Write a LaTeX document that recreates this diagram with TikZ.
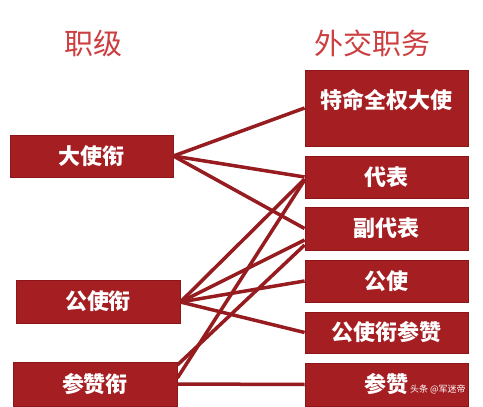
\documentclass[tikz,border=0pt]{standalone}
\usepackage{fontspec}
\newfontfamily\cjk{Noto Sans CJK SC}
\definecolor{boxred}{RGB}{164,30,34}
\definecolor{boxedge}{RGB}{140,22,26}
\definecolor{linered}{RGB}{150,28,32}
\definecolor{titlered}{RGB}{204,62,64}
\tikzset{
  rbox/.style={fill=boxred, draw=boxedge, line width=0.8pt, minimum width=163pt, minimum height=42pt, inner sep=0pt, text=white, font=\cjk\bfseries\fontsize{22}{22}\selectfont},
  boxtext/.style={text=white, inner sep=0pt, font=\cjk\bfseries\fontsize{22}{22}\selectfont},
  title/.style={text=titlered, inner sep=0pt, font=\cjk\fontsize{29}{29}\selectfont},
  link/.style={draw=linered, line width=3.5pt},
  wmark/.style={text=white, inner sep=0pt, font=\cjk\fontsize{9}{9}\selectfont}
}
\begin{document}
\begin{tikzpicture}[x=1pt,y=1pt]
\useasboundingbox (0,0) rectangle (483,-407);
\fill[white] (0,0) rectangle (483,-407);
% titles
\node[title] (t1) at (93,-43) {职级};
\node[title] (t2) at (372,-43) {外交职务};
% left boxes
\node[rbox, minimum width=163pt] (dsx) at (91.5,-156) {大使衔};
\node[rbox, minimum width=164pt, minimum height=43pt] (gsx) at (98,-301.5) {公使衔};
\node[rbox, minimum width=164pt, minimum height=44pt] (czx) at (95,-384) {参赞衔};
% right boxes
\node[rbox, minimum height=76pt] (tm) at (386.5,-108) {};
\node[boxtext] (tmt) at ([yshift=-30pt]tm.north) {特命全权大使};
\node[rbox] (db) at (386.5,-177) {代表};
\node[rbox, minimum height=43pt] (fdb) at (386.5,-228.5) {副代表};
\node[rbox] (gs) at (386.5,-281) {公使};
\node[rbox, minimum height=41pt] (gscz) at (386.5,-332.5) {公使衔参赞};
\node[rbox, minimum height=43pt] (cz) at (386.5,-384.5) {参赞};
% links
\draw[link] (dsx.east) -- (tm.west);
\draw[link] (dsx.east) -- (db.west);
\draw[link] (dsx.east) -- (fdb.west);
\draw[link] ([yshift=-0.5pt]gsx.east) -- ([yshift=-2pt]db.west);
\draw[link] ([yshift=-0.5pt]gsx.east) -- ([yshift=-11.5pt]fdb.west);
\draw[link] ([yshift=-0.5pt]gsx.east) -- (gs.west);
\draw[link] ([yshift=-0.5pt]gsx.east) -- (gscz.west);
\draw[link] ([yshift=19pt]czx.east) -- ([yshift=-16.5pt]fdb.west);
\draw[link] ([yshift=6pt]czx.east) -- ([yshift=-3pt]db.west);
\draw[link] (czx.east) -- (cz.west);
% watermark
\node[wmark, anchor=west] (wm) at (410,-389) {头条 @军迷帝};
\end{tikzpicture}
\end{document}
